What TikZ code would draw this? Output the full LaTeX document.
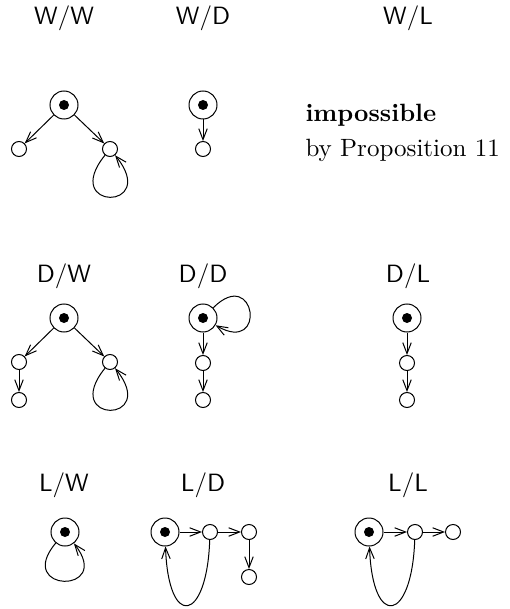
\documentclass[tikz,border=0pt]{standalone}
\usepackage{graphicx}
\usetikzlibrary{arrows.meta}
\newcommand{\bigtxt}[1]{\scalebox{2.5}{\fontsize{10}{12}\selectfont #1}}
\begin{document}
\begin{tikzpicture}[x=1pt,y=1pt,line width=1pt,
  big/.style={circle,draw,minimum size=28pt,inner sep=0pt,
    path picture={\fill (path picture bounding box.center) circle (5pt);}},
  small/.style={circle,draw,minimum size=15pt,inner sep=0pt},
  arr/.style={-{Straight Barb[length=11pt,width=8.5pt]}},
  lab/.style={font=\sffamily,anchor=base,inner sep=0pt},
  txt/.style={anchor=base west,inner sep=0pt}]
\useasboundingbox (0,0) rectangle (510,-609);
% labels
\node[lab] (lww) at (64,-25) {\bigtxt{\sffamily W/W}};
\node[lab] (lwd) at (203,-25) {\bigtxt{\sffamily W/D}};
\node[lab] (lwl) at (408,-25) {\bigtxt{\sffamily W/L}};
\node[lab] (ldw) at (64,-282) {\bigtxt{\sffamily D/W}};
\node[lab] (ldd) at (203,-282) {\bigtxt{\sffamily D/D}};
\node[lab] (ldl) at (408,-282) {\bigtxt{\sffamily D/L}};
\node[lab] (llw) at (64,-491) {\bigtxt{\sffamily L/W}};
\node[lab] (lld) at (203,-491) {\bigtxt{\sffamily L/D}};
\node[lab] (lll) at (408,-491) {\bigtxt{\sffamily L/L}};
% W/W
\node[big] (A1) at (64,-105) {};
\node[small] (A2) at (19,-149) {};
\node[small] (A3) at (110,-149) {};
\draw[arr] (A1) -- (A2);
\draw[arr] (A1) -- (A3);
\draw[arr] (A3) to[out=231,in=-51,distance=72pt] (A3);
% W/D
\node[big] (B1) at (203,-105) {};
\node[small] (B2) at (203,-149) {};
\draw[arr] (B1) -- (B2);
% W/L
\node[txt] (imp) at (305,-122) {\bigtxt{\textbf{impossible}}};
\node[txt] (prop) at (305,-157) {\bigtxt{by Proposition 11}};
% D/W
\node[big] (C1) at (64,-318) {};
\node[small] (C2) at (19,-362) {};
\node[small] (C3) at (110,-362) {};
\node[small] (C4) at (19,-400) {};
\draw[arr] (C1) -- (C2);
\draw[arr] (C1) -- (C3);
\draw[arr] (C2) -- (C4);
\draw[arr] (C3) to[out=231,in=-51,distance=72pt] (C3);
% D/D
\node[big] (D1) at (203,-318) {};
\node[small] (D2) at (203,-363) {};
\node[small] (D3) at (203,-400) {};
\draw[arr] (D1) -- (D2);
\draw[arr] (D2) -- (D3);
\draw[arr] (D1) to[out=45,in=-30,distance=60pt] (D1);
% D/L
\node[big] (E1) at (407,-318) {};
\node[small] (E2) at (407,-363) {};
\node[small] (E3) at (407,-400) {};
\draw[arr] (E1) -- (E2);
\draw[arr] (E2) -- (E3);
% L/W
\node[big] (F1) at (65,-532) {};
\draw[arr] (F1) to[out=230,in=-52,distance=65pt] (F1);
% L/D
\node[big] (G1) at (165,-532) {};
\node[small] (G2) at (210,-532) {};
\node[small] (G3) at (249,-532) {};
\node[small] (G4) at (249,-577) {};
\draw[arr] (G1) -- (G2);
\draw[arr] (G2) -- (G3);
\draw[arr] (G3) -- (G4);
\draw[arr] (G2) to[out=-92,in=-88,distance=83pt] (G1);
% L/L
\node[big] (H1) at (369,-532) {};
\node[small] (H2) at (415,-532) {};
\node[small] (H3) at (453,-532) {};
\draw[arr] (H1) -- (H2);
\draw[arr] (H2) -- (H3);
\draw[arr] (H2) to[out=-92,in=-88,distance=83pt] (H1);
\end{tikzpicture}
\end{document}
